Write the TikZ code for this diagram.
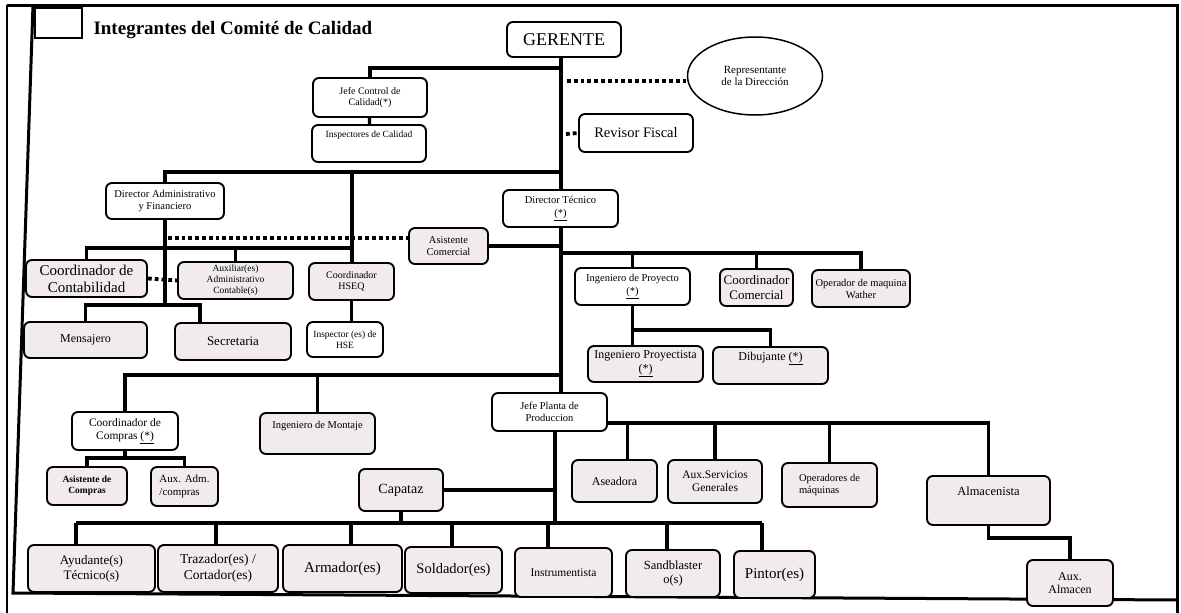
\documentclass[tikz,border=0pt]{standalone}
\usepackage{fontspec}
\setmainfont{Liberation Serif}
\usetikzlibrary{calc,positioning,shapes.geometric}
\definecolor{boxfill}{RGB}{241,234,238}
\tikzset{
  wire/.style={line width=3.2pt},
  dotwire/.style={line width=3.8pt, dash pattern=on 3.8pt off 3pt},
  box/.style={draw, rounded corners=6pt, line width=1.9pt, fill=white, align=center, inner sep=1pt},
  pbox/.style={box, fill=boxfill},
  wh/.style 2 args={minimum width=#1pt, minimum height=#2pt},
  fs/.style={font=\fontsize{#1}{\fpeval{1.15*#1}}\selectfont},
  hi/.style={text depth=18pt},
  pageline/.style={line width=3pt}
}

\begin{document}
\begin{tikzpicture}[x=1pt,y=-1pt]
  \useasboundingbox (0,0) rectangle (1181,613);
  % page frame
  \draw[line width=1.2pt] (7,5) -- (7,613);
  \draw[pageline] (7,5) -- (1177,5) -- (1177,613);
  \draw[pageline] (33,5) -- (13,593) -- (1177,600);
  \draw[line width=1.5pt] (35,8) rectangle (82,38);
  \node[anchor=west, font=\fontsize{19}{21}\selectfont\bfseries] (title) at (90,30) {Integrantes del Comité de Calidad};

  % top level
  \node[box, wh={114}{35}, fs=18] (gerente) at (564,39.5) {GERENTE};
  \node[draw, ellipse, line width=1.5pt, wh={135}{78}, inner sep=0pt, align=center, fs=11] (repres) at (755,76) {Representante\\de la Dirección};
  \node[box, wh={114}{38}, fs=14.5] (revisor) at (636,133) {Revisor Fiscal};
  \node[box, wh={114}{39}, fs=10] (jefecc) at (370,97.5) {Jefe Control de\\Calidad(*)};
  \node[box, wh={114}{37}, fs=9.5, hi] (inspcal) at (369,143.5) {Inspectores de Calidad};

  % administrativo
  \node[box, wh={118}{36}, fs=10.5] (diradm) at (165,201) {Director Administrativo\\y Financiero};
  \node[pbox, wh={121}{37}, fs=15] (coordcont) at (86.5,278.5) {Coordinador de\\Contabilidad};
  \node[pbox, wh={115}{37}, fs=9.5] (auxadm) at (235.5,280.5) {Auxiliar(es)\\Administrativo\\Contable(s)};
  \node[pbox, wh={85}{37}, fs=10] (hseq) at (351.5,281.5) {Coordinador\\HSEQ};
  \node[pbox, wh={123}{36}, fs=12] (mensajero) at (85.5,340) {Mensajero};
  \node[pbox, wh={116}{37}, fs=13] (secretaria) at (233,341.5) {Secretaria};
  \node[box, wh={76}{35}, fs=9.5] (insphse) at (345,339.5) {Inspector (es) de\\HSE};

  % tecnico
  \node[box, wh={115}{37}, fs=10.5] (dirtec) at (560.5,208.5) {Director Técnico\\\underline{(*)}};
  \node[pbox, wh={79}{36}, fs=10.5] (asiscom) at (448.5,246) {Asistente\\Comercial};
  \node[box, wh={115}{37}, fs=10.5] (ingproy) at (632.5,286.5) {Ingeniero de Proyecto\\\underline{(*)}};
  \node[pbox, wh={73}{37}, fs=13] (coordcom) at (756.5,287.5) {Coordinador\\Comercial};
  \node[pbox, wh={98}{37}, fs=10.5] (operw) at (861,288.5) {Operador de maquina\\Wather};
  \node[pbox, wh={115}{36}, fs=12] (ingproyt) at (645.5,364) {Ingeniero Proyectista\\\underline{(*)}};
  \node[pbox, wh={115}{37}, fs=12, hi] (dibuj) at (770.5,365.5) {Dibujante \underline{(*)}};

  % compras y montaje
  \node[box, wh={106}{38}, fs=11.5] (coordcomp) at (125,431) {Coordinador de\\Compras \underline{(*)}};
  \node[pbox, wh={115}{41}, fs=10.5, hi] (ingmont) at (317.5,433.5) {Ingeniero de Montaje};
  \node[pbox, wh={80}{38}, fs=9.5] (asiscomp) at (87,486) {\bfseries Asistente de\\\bfseries Compras};
  \node[pbox, wh={67}{39}, fs=11, align=left] (auxcomp) at (184.5,486.5) {Aux. Adm.\\/compras};

  % planta
  \node[box, wh={115}{38}, fs=10.5] (jefepl) at (549.5,412) {Jefe Planta de\\Produccion};
  \node[pbox, wh={84}{42}, fs=14] (capataz) at (401,490) {Capataz};
  \node[pbox, wh={85}{42}, fs=12] (aseadora) at (614.5,481) {Aseadora};
  \node[pbox, wh={94}{43}, fs=11.5] (auxserv) at (715,481.5) {Aux.Servicios\\Generales};
  \node[pbox, wh={95}{44}, fs=10.5, align=left] (operad) at (829.5,485) {Operadores de\\máquinas};
  \node[pbox, wh={123}{49}, fs=12.5, hi] (almac) at (988.5,500.5) {Almacenista};
  \node[pbox, wh={86}{46}, fs=12] (auxalm) at (1070,583) {Aux.\\Almacen};

  % bottom row
  \node[pbox, wh={127}{47}, fs=13] (ayud) at (91.5,568.5) {Ayudante(s)\\Técnico(s)};
  \node[pbox, wh={120}{47}, fs=13.5] (traz) at (218,568.5) {Trazador(es) /\\Cortador(es)};
  \node[pbox, wh={119}{47}, fs=15] (armad) at (342.5,568.5) {Armador(es)};
  \node[pbox, wh={97}{46}, fs=14.5] (sold) at (453.5,570) {Soldador(es)};
  \node[pbox, wh={97}{49}, fs=11.5] (instr) at (563.5,572.5) {Instrumentista};
  \node[pbox, wh={94}{47}, fs=12.5] (sandb) at (673,573.5) {Sandblaster\\o(s)};
  \node[pbox, wh={81}{47}, fs=15] (pintor) at (774.5,574.5) {Pintor(es)};

  % bus points
  \coordinate (b1) at (561,68);
  \coordinate (b2) at (561,172);
  \coordinate (b3) at (352,248);
  \coordinate (b4) at (165,305);
  \coordinate (b4r) at (200,305);
  \coordinate (b5) at (561,253);
  \coordinate (b6) at (633,330);
  \coordinate (b7) at (561,375);
  \coordinate (b8) at (125,458);
  \coordinate (b9) at (607,423);
  \coordinate (b10) at (555,523);
  \coordinate (d1) at (168,238);
  \coordinate (r1) at (567,81);
  \coordinate (r2) at (566,134);

  % main spine
  \draw[wire] (b1 |- gerente.south) -- (b1 |- dirtec.north);
  \draw[wire] (b1 |- dirtec.south) -- (b1 |- jefepl.north);
  \draw[wire] (b1) -| (jefecc.north);
  \draw[wire] (jefecc) -- (inspcal);
  \draw[dotwire] (r1) -- (r1 -| repres.west);
  \draw[dotwire] (r2) -- (revisor.west);

  % administrativo
  \draw[wire] (b2) -| (diradm.north);
  \draw[wire] (b3 |- b2) -- (b3 |- hseq.north);
  \draw[wire] (coordcont.north) |- (b3);
  \draw[wire] (auxadm.north) -- (auxadm.north |- b3);
  \draw[wire] (diradm.south) -- (b4);
  \draw[wire] (mensajero.north) |- (b4);
  \draw[wire] (b4) -- (b4r) -- (b4r |- secretaria.north);
  \draw[wire] (hseq.south) -- (hseq.south |- insphse.north);
  \draw[dotwire] (d1) -- (d1 -| asiscom.west);
  \draw[dotwire] (coordcont.east) -- (auxadm.west);

  % tecnico
  \draw[wire] (asiscom.east) -- (asiscom.east -| b1);
  \draw[wire] (b5) -| (operw.north);
  \draw[wire] (ingproy.north |- b5) -- (ingproy.north);
  \draw[wire] (coordcom.north |- b5) -- (coordcom.north);
  \draw[wire] (ingproy.south) -- (ingproy.south |- ingproyt.north);
  \draw[wire] (ingproy.south |- b6) -| (dibuj.north);

  % compras y montaje
  \draw[wire] (b7) -| (coordcomp.north);
  \draw[wire] (ingmont.north |- b7) -- (ingmont.north);
  \draw[wire] (coordcomp.south) -- (b8);
  \draw[wire] (asiscomp.north) |- (b8) -| (auxcomp.north);

  % planta
  \draw[wire] (b9) -| (almac.north);
  \coordinate (asea-t) at ([xshift=13pt]aseadora.north);
  \draw[wire] (asea-t |- b9) -- (asea-t);
  \draw[wire] (auxserv.north |- b9) -- (auxserv.north);
  \draw[wire] (operad.north |- b9) -- (operad.north);
  \draw[wire] (almac.south) -- ++(0,12) -| (auxalm.north);
  \draw[wire] (b10 |- jefepl.south) -- (b10);
  \draw[wire] (capataz.east) -- (capataz.east -| b10);
  \draw[wire] (capataz.south) -- (capataz.south |- b10);
  \foreach \n/\dx in {ayud/-15.5, traz/-2, armad/8.5, sold/-1.5, instr/-15.5, sandb/-6, pintor/-12.5}{
    \coordinate (\n-t) at ([xshift=\dx pt]\n.north);
    \draw[wire] (\n-t) -- (\n-t |- b10);
  }
  \draw[wire] (ayud-t |- b10) -- (pintor-t |- b10);
\end{tikzpicture}
\end{document}
